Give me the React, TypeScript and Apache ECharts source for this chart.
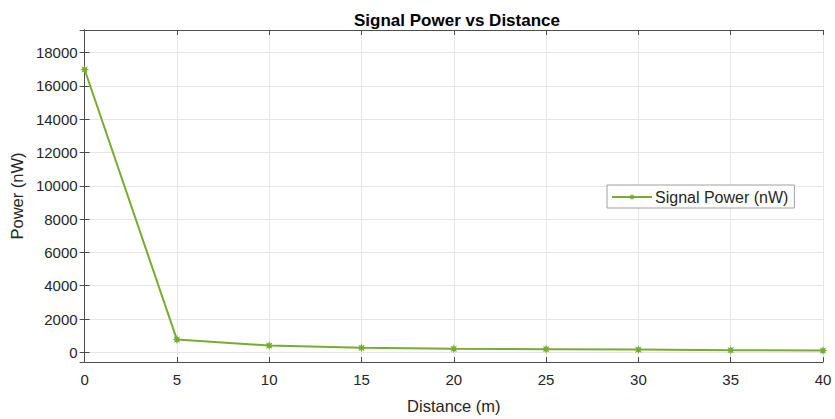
import React, { useEffect, useRef } from "react";
import * as echarts from "echarts";

const distances = [0, 5, 10, 15, 20, 25, 30, 35, 40];
const powerValues = [16980, 765, 405, 268, 208, 190, 165, 132, 105];
const titleText = "Signal Power vs Distance";
const seriesName = "Signal Power (nW)";
const xName = "Distance (m)";
const yName = "Power (nW)";

function starPath(): string {
  const pts: string[] = [];
  const n = 8;
  for (let i = 0; i < n * 2; i++) {
    const r = i % 2 === 0 ? 10 : 5;
    const a = (Math.PI * i) / n - Math.PI / 2;
    pts.push(`${(10 + r * Math.cos(a)).toFixed(2)} ${(10 + r * Math.sin(a)).toFixed(2)}`);
  }
  return "path://M" + pts.join(" L") + " Z";
}

const GREEN = "#77AC30";
const AXIS = "#4d4d4d";
const GRID = "#e6e6e6";
const FONT = "'Liberation Sans', Arial, Helvetica, sans-serif";

export default function App() {
  const ref = useRef<HTMLDivElement>(null);
  useEffect(() => {
    document.body.style.margin = "0";
    if (!ref.current) return;
    const chart = echarts.init(ref.current, undefined, { renderer: "svg" });
    const yMin = -580;
    const yMax = 19350;
    const baseY = {
      type: "value" as const,
      min: yMin,
      max: yMax,
      splitNumber: 10,
      axisLine: { show: true, lineStyle: { color: AXIS, width: 1 } },
      axisTick: { show: true, inside: true, length: 5, lineStyle: { color: AXIS } },
    };
    const baseX = {
      type: "value" as const,
      min: 0,
      max: 40,
      interval: 5,
      axisLine: { show: true, onZero: false, lineStyle: { color: AXIS, width: 1 } },
      axisTick: { show: true, inside: true, length: 5, lineStyle: { color: AXIS } },
    };
    chart.setOption({
      animation: false,
      backgroundColor: "#ffffff",
      textStyle: { fontFamily: FONT },
      title: {
        text: titleText,
        left: 452,
        textAlign: "center",
        top: 7,
        textStyle: { fontFamily: FONT, fontSize: 17, fontWeight: "bold", color: "#000" },
      },
      legend: {
        data: [seriesName],
        left: 607,
        top: 185,
        orient: "vertical",
        backgroundColor: "#fff",
        borderColor: "#a0a0a0",
        borderWidth: 1,
        borderRadius: 0,
        padding: [4, 6, 3, 4],
        itemWidth: 40,
        itemHeight: 8,
        itemGap: 4,
        textStyle: { fontFamily: FONT, fontSize: 16, color: "#262626", padding: [0, 0, 0, -2] },
      },
      grid: { left: 80, right: 12, top: 30, bottom: 55, containLabel: false },
      xAxis: [
        {
          ...baseX,
          position: "bottom",
          name: xName,
          nameLocation: "middle",
          nameGap: 35,
          nameTextStyle: { fontFamily: FONT, fontSize: 16.5, color: "#262626" },
          axisLabel: { fontFamily: FONT, fontSize: 15, color: "#262626", margin: 10 },
          splitLine: { show: true, lineStyle: { color: GRID, width: 1 } },
        },
        {
          ...baseX,
          position: "top",
          axisLabel: { show: false },
          splitLine: { show: false },
        },
      ],
      yAxis: [
        {
          ...baseY,
          position: "left",
          name: yName,
          nameLocation: "middle",
          nameGap: 58,
          nameTextStyle: { fontFamily: FONT, fontSize: 16.5, color: "#262626" },
          axisLabel: {
            fontFamily: FONT,
            fontSize: 15,
            color: "#262626",
            margin: 7,
            showMinLabel: false,
            showMaxLabel: false,
            formatter: (v: number) => String(v),
          },
          splitLine: { show: true, lineStyle: { color: GRID, width: 1 } },
        },
        {
          ...baseY,
          position: "right",
          axisLabel: { show: false },
          splitLine: { show: false },
        },
      ],
      series: [
        {
          name: seriesName,
          type: "line",
          xAxisIndex: 0,
          yAxisIndex: 0,
          data: distances.map((d, i) => [d, powerValues[i]]),
          symbol: starPath(),
          symbolSize: 9,
          showAllSymbol: true,
          lineStyle: { color: GREEN, width: 2 },
          itemStyle: { color: GREEN, borderWidth: 0 },
        },
      ],
    });
    return () => chart.dispose();
  }, []);
  return <div ref={ref} style={{ width: 835, height: 419 }} />;
}
